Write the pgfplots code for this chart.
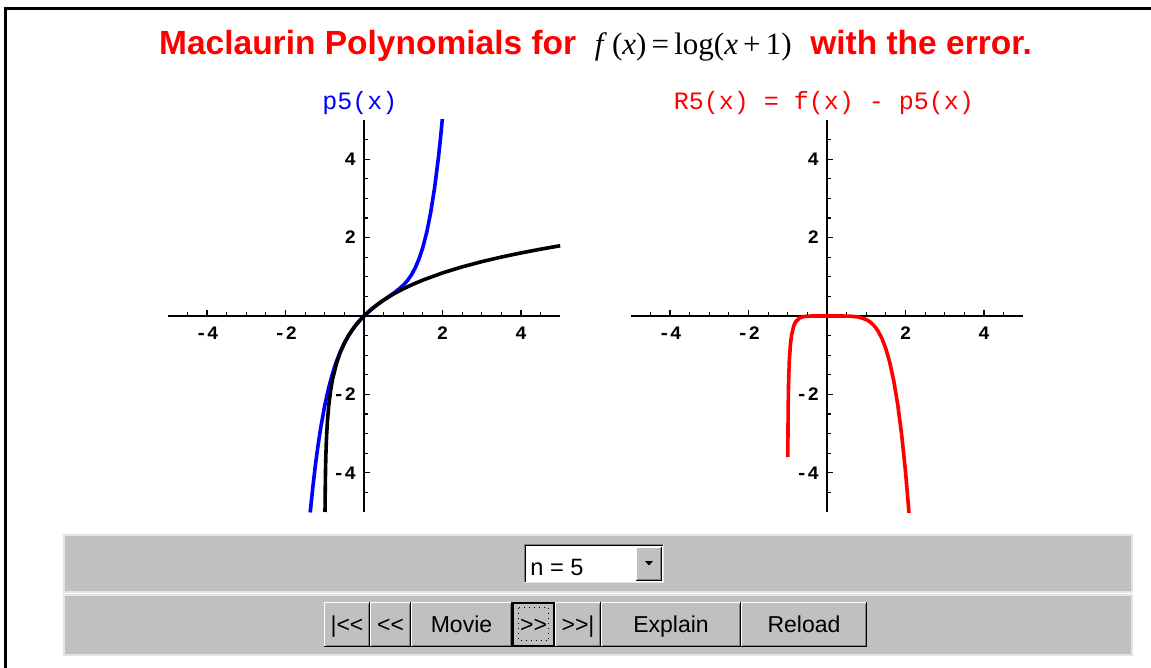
\documentclass[border=0pt]{standalone}
\usepackage{pgfplots}
\pgfplotsset{compat=1.18}
\usepackage{fontspec}
\setmainfont{Liberation Sans}
\setmonofont{Liberation Mono}
\newfontfamily\seriffont{Liberation Serif}

\definecolor{wingray}{RGB}{192,192,192}
\definecolor{winshadow}{RGB}{128,128,128}
\definecolor{winlight}{RGB}{228,228,228}

\newcommand\uifont{\fontsize{11.5}{13}\selectfont}
\newcommand\ticksfont{\fontsize{9.5}{10}\selectfont\ttfamily\bfseries}
\newcommand\plottitlefont{\fontsize{12.5}{14}\selectfont\ttfamily}
\newcommand\lt{\mbox{<}}
\newcommand\gt{\mbox{>}}

% raised windows button, x1 x2 in px, label
\newcommand\winbutton[3]{%
  \fill[wingray] (#1,602) rectangle (#2,647);
  \draw[white, line width=0.5pt] (#1+0.5,646) -- (#1+0.5,602.5) -- (#2-1,602.5);
  \draw[winshadow, line width=0.5pt] (#1+1.5,645.5) -- (#2-1.5,645.5) -- (#2-1.5,603.5);
  \draw[black, line width=0.5pt] (#1,646.5) -- (#2-0.5,646.5) -- (#2-0.5,602);
  \node[anchor=base, font=\uifont, inner sep=0pt] at ({(#1+#2)/2},632) {#3};
}

\pgfplotsset{mathaxis/.style={
  scale only axis, width=196.25pt, height=196pt,
  anchor=center,
  xmin=-5, xmax=5, ymin=-5, ymax=5,
  axis lines=middle,
  axis line style={-, line width=0.75pt, black},
  xtick={-4,-2,2,4}, ytick={-4,-2,2,4},
  xticklabels={-4,-2,2,4}, yticklabels={-4,-2,2,4},
  minor xtick={-4.5,-4,...,4.5}, minor ytick={-4.5,-4,...,4.5},
  tick align=inside,
  major tick length=3pt, minor tick length=1.75pt,
  every tick/.style={black, line width=0.6pt},
  tick label style={font=\ticksfont},
  xticklabel style={yshift=-2pt},
  yticklabel style={xshift=-0.5pt},
  clip=true,
}}

\begin{document}
\begin{tikzpicture}
\path[use as bounding box] (0,0) rectangle (575.5pt,-334pt);

% left: p5 against log(x+1)
\begin{axis}[mathaxis, at={(182pt,-158pt)}]
\addplot[blue, line width=1.8pt] coordinates {
 (-1.37,-5.011) (-1.35,-4.808) (-1.3,-4.334) (-1.25,-3.903) (-1.2,-3.512)
 (-1.15,-3.158) (-1.1,-2.837) (-1.0,-2.283) (-0.9,-1.830) (-0.8,-1.459)
 (-0.7,-1.153) (-0.6,-0.900) (-0.5,-0.689) (-0.4,-0.510) (-0.3,-0.357)
 (-0.2,-0.223) (-0.1,-0.105) (0,0) (0.2,0.182) (0.4,0.337) (0.6,0.475)
 (0.8,0.614) (1.0,0.783) (1.1,0.895) (1.2,1.035) (1.3,1.216) (1.4,1.450)
 (1.5,1.753) (1.6,2.144) (1.7,2.644) (1.8,3.279) (1.9,4.076) (1.95,4.545)
 (2.0,5.067)
};
\addplot[black, line width=1.8pt] coordinates {
 (-0.99326,-5) (-0.99,-4.605) (-0.98,-3.912) (-0.97,-3.507) (-0.96,-3.219)
 (-0.95,-2.996) (-0.93,-2.659) (-0.9,-2.303) (-0.85,-1.897) (-0.8,-1.609)
 (-0.7,-1.204) (-0.6,-0.916) (-0.5,-0.693) (-0.4,-0.511) (-0.3,-0.357)
 (-0.2,-0.223) (-0.1,-0.105) (0,0) (0.1,0.095) (0.25,0.223) (0.5,0.405)
 (0.75,0.560) (1,0.693) (1.25,0.811) (1.5,0.916) (2,1.099) (2.5,1.253)
 (3,1.386) (3.5,1.504) (4,1.609) (4.5,1.705) (5,1.792)
};
\end{axis}

% right: error R5 = f - p5
\begin{axis}[mathaxis, at={(413.5pt,-158pt)}]
\addplot[red, line width=1.8pt] coordinates {
 (-0.9973,-3.60) (-0.995,-3.040) (-0.99,-2.371) (-0.98,-1.727) (-0.96,-1.128)
 (-0.93,-0.703) (-0.9,-0.472) (-0.85,-0.262) (-0.8,-0.151) (-0.7,-0.051)
 (-0.6,-0.016) (-0.5,-0.005) (-0.4,-0.001) (-0.2,0) (0,0) (0.2,0)
 (0.4,-0.0005) (0.6,-0.005) (0.8,-0.026) (1.0,-0.090) (1.1,-0.153)
 (1.2,-0.247) (1.3,-0.383) (1.4,-0.574) (1.5,-0.837) (1.6,-1.189)
 (1.7,-1.651) (1.8,-2.249) (1.9,-3.011) (2.0,-3.968) (2.1,-5.157)
};
\end{axis}

\begin{scope}[x=0.5pt, y=-0.5pt]
% page frame
\draw[black, line width=1.5pt] (5,668) -- (5,8.5) -- (1151,8.5);

% title
\node[anchor=base, inner sep=0pt] at (595.5,55) {%
  \fontsize{16.75}{20}\selectfont\color{red}\bfseries Maclaurin Polynomials for\ \
  {\color{black}\seriffont\mdseries\fontsize{15.5}{18}\selectfont
   \textit{f}\,(\textit{x})\,=\,log(\textit{x}\,+\,1)}\ \ with the error.};

% plot titles
\node[anchor=base, inner sep=0pt, text=blue, font=\plottitlefont] at (360,110) {p5(x)};
\node[anchor=base, inner sep=0pt, text=red, font=\plottitlefont] at (824,110) {R5(x) = f(x) - p5(x)};

% control panels
\fill[wingray, draw=winlight, line width=0.75pt] (64,535) rectangle (1132,592);
\fill[wingray, draw=winlight, line width=0.75pt] (64,595) rectangle (1132,655);

% drop-down box
\fill[white] (524,544) rectangle (664,583);
\draw[winshadow, line width=0.5pt] (524.5,583) -- (524.5,544.5) -- (664,544.5);
\draw[black, line width=0.5pt] (525.5,582) -- (525.5,545.5) -- (663,545.5);
\draw[winlight, line width=0.5pt] (524,582.5) -- (663.5,582.5) -- (663.5,544);
\node[anchor=base west, inner sep=0pt, font=\fontsize{11.8}{13}\selectfont] at (530,575) {n = 5};
\fill[wingray] (636,547) rectangle (662,581);
\draw[white, line width=0.5pt] (636.5,580.5) -- (636.5,547.5) -- (661.5,547.5);
\draw[winshadow, line width=0.5pt] (637,579.5) -- (660.5,579.5) -- (660.5,548);
\draw[black, line width=0.5pt] (636,580.5) -- (661.5,580.5) -- (661.5,547);
\fill[black] (645,561) -- (653,561) -- (649,565.5) -- cycle;

% navigation buttons
\winbutton{324}{370}{|\lt\lt}
\winbutton{370}{411}{\lt\lt}
\winbutton{411}{512}{Movie}
\winbutton{512}{555}{\gt\gt}
\winbutton{555}{601}{\gt\gt|}
\winbutton{601}{741}{Explain}
\winbutton{741}{867}{Reload}
% focus on the >> button
\draw[black, line width=1pt] (513,603) rectangle (554,646);
\draw[black, line width=0.5pt, dotted] (518.5,607.5) rectangle (548.5,640.5);
\end{scope}
\end{tikzpicture}
\end{document}
